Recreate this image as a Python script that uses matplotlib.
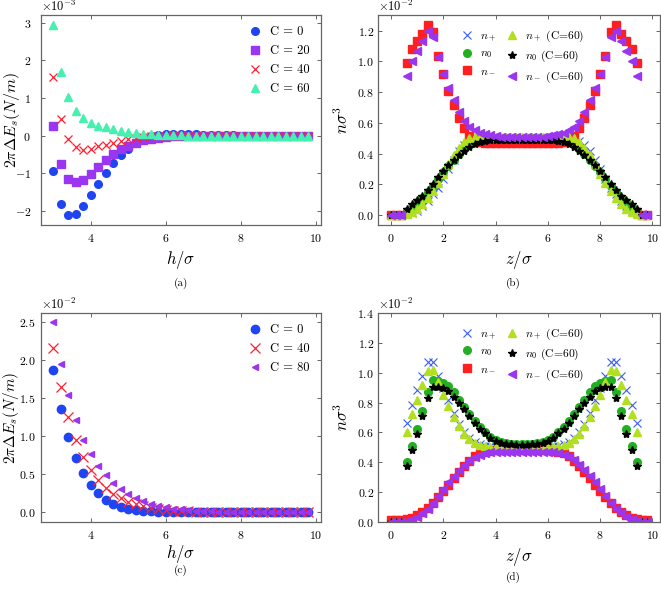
import numpy as np
import matplotlib
matplotlib.use('Agg')
import matplotlib.pyplot as plt

plt.rcParams['font.family'] = 'serif'
plt.rcParams['font.serif'] = ['cmr10', 'DejaVu Serif']
plt.rcParams['mathtext.fontset'] = 'cm'
plt.rcParams['axes.formatter.use_mathtext'] = True
plt.rcParams['axes.unicode_minus'] = True

# ---- panel (a): 2*pi*dE_s in units of 1e-3 N/m
h = [3.0, 3.2, 3.4, 3.6, 3.8, 4.0, 4.2, 4.4, 4.6, 4.8, 5.0, 5.2, 5.4, 5.6, 5.8, 6.0, 6.2,
     6.4, 6.6, 6.8, 7.0, 7.2, 7.4, 7.6, 7.8, 8.0, 8.2, 8.4, 8.6, 8.8, 9.0, 9.2, 9.4, 9.6, 9.8]
a_c0 = [-0.93, -1.82, -2.11, -2.07, -1.86, -1.58, -1.28, -0.99, -0.73, -0.51, -0.34, -0.20,
        -0.09, -0.02, 0.02, 0.04, 0.05, 0.05, 0.05, 0.04, 0.03, 0.02, 0.015, 0.01, 0.01,
        0.005, 0.005, 0, 0, 0, 0, 0, 0, 0, 0]
a_c20 = [0.27, -0.75, -1.15, -1.24, -1.18, -1.02, -0.82, -0.65, -0.49, -0.35, -0.27, -0.18,
         -0.12, -0.08, -0.05, -0.03, -0.02, -0.01, -0.005, 0, 0, 0, 0, 0, 0, 0, 0, 0, 0, 0,
         0, 0, 0, 0, 0]
a_c40 = [1.57, 0.44, -0.10, -0.31, -0.38, -0.35, -0.28, -0.24, -0.18, -0.13, -0.09, -0.06,
         -0.04, -0.02, -0.01, -0.005, 0, 0, 0, 0, 0, 0, 0, 0, 0, 0, 0, 0, 0, 0, 0, 0, 0, 0, 0]
a_c60 = [2.95, 1.68, 1.02, 0.66, 0.47, 0.34, 0.27, 0.22, 0.17, 0.13, 0.10, 0.07, 0.05, 0.035,
         0.025, 0.018, 0.012, 0.008, 0.005, 0.003, 0, 0, 0, 0, 0, 0, 0, 0, 0, 0, 0, 0, 0, 0, 0]

# ---- panel (c): 2*pi*dE_s in units of 1e-2 N/m
c_c0 = [1.87, 1.365, 0.99, 0.715, 0.515, 0.365, 0.25, 0.167, 0.11, 0.072, 0.047, 0.03, 0.02,
        0.013, 0.008, 0.005, 0.003, 0.002, 0.001, 0, 0, 0, 0, 0, 0, 0, 0, 0, 0, 0, 0, 0, 0,
        0, 0]
c_c40 = [2.17, 1.645, 1.25, 0.955, 0.725, 0.555, 0.425, 0.32, 0.243, 0.185, 0.14, 0.105,
         0.08, 0.06, 0.045, 0.034, 0.025, 0.019, 0.014, 0.01, 0.008, 0.006, 0.004, 0.003,
         0.002, 0.002, 0.001, 0, 0, 0, 0, 0, 0, 0, 0]
c_c80 = [2.5, 1.95, 1.54, 1.215, 0.96, 0.765, 0.61, 0.488, 0.388, 0.307, 0.245, 0.19, 0.147,
         0.112, 0.085, 0.066, 0.05, 0.04, 0.03, 0.022, 0.017, 0.013, 0.01, 0.008, 0.006,
         0.004, 0.003, 0.002, 0.001, 0, 0, 0, 0, 0, 0]

# ---- panels (b), (d): density profiles, units of 1e-2
z = [0.0, 0.2, 0.4, 0.6, 0.8, 1.0, 1.2, 1.4, 1.6, 1.8, 2.0, 2.2, 2.4, 2.6, 2.8, 3.0, 3.2,
     3.4, 3.6, 3.8, 4.0, 4.2, 4.4, 4.6, 4.8, 5.0, 5.2, 5.4, 5.6, 5.8, 6.0, 6.2, 6.4, 6.6,
     6.8, 7.0, 7.2, 7.4, 7.6, 7.8, 8.0, 8.2, 8.4, 8.6, 8.8, 9.0, 9.2, 9.4, 9.6, 9.8]

b_np = [0, 0, 0, 0.005, 0.015, 0.03, 0.06, 0.095, 0.135, 0.18, 0.235, 0.30, 0.36, 0.415,
        0.455, 0.48, 0.495, 0.502, 0.505, 0.505, 0.505, 0.505, 0.505, 0.505, 0.505, 0.505,
        0.505, 0.505, 0.505, 0.505, 0.505, 0.505, 0.505, 0.505, 0.502, 0.495, 0.48, 0.455,
        0.415, 0.36, 0.30, 0.235, 0.18, 0.135, 0.095, 0.06, 0.03, 0.015, 0.005, 0]
b_n0 = [0, 0, 0, 0.03, 0.055, 0.085, 0.115, 0.15, 0.19, 0.235, 0.28, 0.32, 0.36, 0.395,
        0.43, 0.455, 0.475, 0.488, 0.495, 0.498, 0.498, 0.498, 0.498, 0.498, 0.498, 0.498,
        0.498, 0.498, 0.498, 0.498, 0.498, 0.498, 0.495, 0.488, 0.475, 0.455, 0.43, 0.395,
        0.36, 0.32, 0.28, 0.235, 0.19, 0.15, 0.115, 0.085, 0.055, 0.03, 0, 0]
b_nm = [0, 0, 0, 0.99, 1.08, 1.13, 1.18, 1.24, 1.19, 1.035, 0.92, 0.81, 0.72, 0.63, 0.565,
        0.515, 0.49, 0.478, 0.472, 0.47, 0.47, 0.47, 0.47, 0.47, 0.47, 0.47, 0.47, 0.47,
        0.47, 0.47, 0.47, 0.47, 0.472, 0.478, 0.49, 0.515, 0.565, 0.63, 0.72, 0.81, 0.92,
        1.035, 1.19, 1.24, 1.18, 1.13, 1.08, 0.99, 0, 0]
b_np60 = [0, 0, 0, 0.01, 0.02, 0.04, 0.07, 0.11, 0.155, 0.21, 0.27, 0.33, 0.39, 0.44, 0.475,
          0.50, 0.51, 0.512, 0.512, 0.512, 0.512, 0.512, 0.512, 0.512, 0.512, 0.512, 0.512,
          0.512, 0.512, 0.512, 0.512, 0.512, 0.512, 0.512, 0.51, 0.50, 0.475, 0.44, 0.39,
          0.33, 0.27, 0.21, 0.155, 0.11, 0.07, 0.04, 0.02, 0.01, 0, 0]
b_n060 = [0, 0, 0, 0.04, 0.07, 0.098, 0.124, 0.163, 0.206, 0.25, 0.29, 0.325, 0.358, 0.39,
          0.42, 0.445, 0.462, 0.475, 0.482, 0.486, 0.488, 0.488, 0.488, 0.488, 0.488, 0.488,
          0.488, 0.488, 0.488, 0.488, 0.488, 0.486, 0.482, 0.475, 0.462, 0.445, 0.42, 0.39,
          0.358, 0.325, 0.29, 0.25, 0.206, 0.163, 0.124, 0.098, 0.07, 0.04, 0, 0]
b_nm60 = [0, 0, 0, 0.905, 1.005, 1.07, 1.13, 1.20, 1.16, 1.03, 0.92, 0.83, 0.75, 0.67, 0.61,
          0.575, 0.553, 0.536, 0.527, 0.52, 0.515, 0.512, 0.51, 0.51, 0.51, 0.51, 0.51, 0.51,
          0.51, 0.512, 0.515, 0.52, 0.527, 0.536, 0.553, 0.575, 0.61, 0.67, 0.75, 0.83, 0.92,
          1.03, 1.16, 1.20, 1.13, 1.07, 1.005, 0.905, 0, 0]

d_np = [0, 0, 0, 0.66, 0.785, 0.885, 0.98, 1.075, 1.075, 0.975, 0.90, 0.815, 0.73, 0.655,
        0.60, 0.56, 0.535, 0.52, 0.512, 0.507, 0.504, 0.502, 0.502, 0.502, 0.502, 0.502,
        0.502, 0.502, 0.502, 0.502, 0.504, 0.507, 0.512, 0.52, 0.535, 0.56, 0.60, 0.655,
        0.73, 0.815, 0.90, 0.975, 1.075, 1.075, 0.98, 0.885, 0.785, 0.66, 0, 0]
d_n0 = [0, 0, 0, 0.40, 0.51, 0.625, 0.745, 0.87, 0.948, 0.945, 0.93, 0.91, 0.87, 0.82, 0.77,
        0.72, 0.675, 0.635, 0.60, 0.57, 0.55, 0.537, 0.528, 0.523, 0.52, 0.52, 0.52, 0.523,
        0.528, 0.537, 0.55, 0.57, 0.60, 0.635, 0.675, 0.72, 0.77, 0.82, 0.87, 0.91, 0.93,
        0.945, 0.948, 0.87, 0.745, 0.625, 0.51, 0.40, 0, 0]
d_nm = [0.01, 0.01, 0.012, 0.02, 0.028, 0.045, 0.067, 0.094, 0.13, 0.17, 0.205, 0.25, 0.295,
        0.335, 0.375, 0.41, 0.44, 0.46, 0.472, 0.478, 0.48, 0.48, 0.48, 0.48, 0.48, 0.48,
        0.48, 0.48, 0.48, 0.48, 0.48, 0.478, 0.472, 0.46, 0.44, 0.41, 0.375, 0.335, 0.295,
        0.25, 0.205, 0.17, 0.13, 0.094, 0.067, 0.045, 0.028, 0.02, 0.012, 0.01]
d_np60 = [0, 0, 0, 0.605, 0.72, 0.82, 0.915, 1.01, 1.02, 0.935, 0.85, 0.775, 0.705, 0.64,
          0.59, 0.555, 0.532, 0.518, 0.51, 0.505, 0.502, 0.50, 0.50, 0.50, 0.50, 0.50, 0.50,
          0.50, 0.50, 0.50, 0.502, 0.505, 0.51, 0.518, 0.532, 0.555, 0.59, 0.64, 0.705,
          0.775, 0.85, 0.935, 1.02, 1.01, 0.915, 0.82, 0.72, 0.605, 0, 0]
d_n060 = [0, 0, 0, 0.375, 0.485, 0.59, 0.71, 0.83, 0.905, 0.905, 0.895, 0.875, 0.84, 0.80,
          0.755, 0.71, 0.665, 0.625, 0.595, 0.565, 0.545, 0.532, 0.524, 0.52, 0.518, 0.518,
          0.518, 0.52, 0.524, 0.532, 0.545, 0.565, 0.595, 0.625, 0.665, 0.71, 0.755, 0.80,
          0.84, 0.875, 0.895, 0.905, 0.905, 0.83, 0.71, 0.59, 0.485, 0.375, 0, 0]
d_nm60 = [0, 0, 0.003, 0.008, 0.018, 0.035, 0.058, 0.09, 0.13, 0.175, 0.22, 0.265, 0.31,
          0.35, 0.385, 0.415, 0.438, 0.452, 0.462, 0.467, 0.47, 0.472, 0.472, 0.472, 0.472,
          0.472, 0.472, 0.472, 0.472, 0.472, 0.47, 0.467, 0.462, 0.452, 0.438, 0.415, 0.385,
          0.35, 0.31, 0.265, 0.22, 0.175, 0.13, 0.09, 0.058, 0.035, 0.018, 0.008, 0.003, 0]

BLUE = '#1f45f2'
PURPLE = '#9a35f0'
RED = '#ff2030'
AQUA = '#45f0b0'
GREEN = '#22b022'
YGREEN = '#b2e020'
SPINE = '#666666'


def style_axes(ax, ypad):
    for sp in ax.spines.values():
        sp.set_color(SPINE)
        sp.set_linewidth(0.9)
    ax.tick_params(direction='in', top=True, right=True, length=3, width=0.7,
                   color=SPINE, labelsize=8.5)
    ax.tick_params(axis='x', pad=5)
    ax.tick_params(axis='y', pad=ypad)
    ax.ticklabel_format(style='sci', axis='y', scilimits=(0, 0), useMathText=True)
    ax.yaxis.get_offset_text().set_fontsize(9)


fig = plt.figure(figsize=(6.61, 5.90), dpi=100)
ax_a = fig.add_axes([0.0616, 0.619, 0.424, 0.3556])
ax_b = fig.add_axes([0.572, 0.619, 0.4265, 0.3556])
ax_c = fig.add_axes([0.0616, 0.1153, 0.424, 0.3542])
ax_d = fig.add_axes([0.572, 0.1153, 0.4265, 0.3542])

hh = np.array(h)
zz = np.array(z)

# (a)
ax_a.plot(hh, np.array(a_c0) * 1e-3, ls='none', marker='o', ms=5.5, color=BLUE, label='C = 0')
ax_a.plot(hh, np.array(a_c20) * 1e-3, ls='none', marker='s', ms=5.5, color=PURPLE, label='C = 20')
ax_a.plot(hh, np.array(a_c40) * 1e-3, ls='none', marker='x', ms=6, mew=0.9, color=RED, label='C = 40')
ax_a.plot(hh, np.array(a_c60) * 1e-3, ls='none', marker='^', ms=6, color=AQUA, label='C = 60')
ax_a.set_xlabel(r'$h/\sigma$', fontsize=12)
ax_a.set_ylabel(r'$2\pi\Delta E_s(N/m)$', fontsize=11.5)
ax_a.legend(loc='upper right', frameon=False, fontsize=9, handlelength=1.2,
            handletextpad=0.6, labelspacing=0.55)

# (c)
ax_c.plot(hh, np.array(c_c0) * 1e-2, ls='none', marker='o', ms=6, color=BLUE, label='C = 0')
ax_c.plot(hh, np.array(c_c40) * 1e-2, ls='none', marker='x', ms=6.5, mew=0.9, color=RED, label='C = 40')
ax_c.plot(hh, np.array(c_c80) * 1e-2, ls='none', marker='<', ms=4.5, color=PURPLE, label='C = 80')
ax_c.set_xlabel(r'$h/\sigma$', fontsize=12, labelpad=1.5)
ax_c.set_ylabel(r'$2\pi\Delta E_s(N/m)$', fontsize=11)
ax_c.legend(loc='upper right', frameon=False, fontsize=9, handlelength=1.2,
            handletextpad=0.6, labelspacing=0.55)


def profiles(ax, npl, n0, nm, np60, n060, nm60):
    ax.plot(zz, np.array(npl) * 1e-2, ls='none', marker='x', ms=5.5, mew=0.8, color='#3a5cf5', label=r'$n_+$')
    ax.plot(zz, np.array(n0) * 1e-2, ls='none', marker='o', ms=5.5, color=GREEN, label=r'$n_0$')
    ax.plot(zz, np.array(nm) * 1e-2, ls='none', marker='s', ms=5.5, color='#ff1f1f', label=r'$n_-$')
    ax.plot(zz, np.array(np60) * 1e-2, ls='none', marker='^', ms=6, color=YGREEN, label=r'$n_+$ (C=60)')
    ax.plot(zz, np.array(n060) * 1e-2, ls='none', marker='*', ms=6, color='black', label=r'$n_0$ (C=60)')
    ax.plot(zz, np.array(nm60) * 1e-2, ls='none', marker='<', ms=6, color=PURPLE, label=r'$n_-$ (C=60)')
    ax.set_xlabel(r'$z/\sigma$', fontsize=12)
    ax.set_ylabel(r'$n\sigma^3$', fontsize=12)
    ax.legend(loc='upper center', bbox_to_anchor=(0.51, 0.985), ncol=2, frameon=False,
              fontsize=8.3, handlelength=1.2, handletextpad=0.5, labelspacing=0.45,
              columnspacing=0.8)


profiles(ax_b, b_np, b_n0, b_nm, b_np60, b_n060, b_nm60)
profiles(ax_d, d_np, d_n0, d_nm, d_np60, d_n060, d_nm60)
ax_b.set_xticks([0, 2, 4, 6, 8, 10])
ax_d.set_xticks([0, 2, 4, 6, 8, 10])
ax_d.set_ylim(0, 0.014)

style_axes(ax_a, 7)
style_axes(ax_c, 3.5)
style_axes(ax_b, 3)
style_axes(ax_d, 3)
ax_d.set_yticks(np.arange(0, 0.0141, 0.002))

ax_a.yaxis.set_label_coords(-0.068, 0.5)
ax_c.yaxis.set_label_coords(-0.072, 0.5)
ax_b.yaxis.set_label_coords(-0.095, 0.5)
ax_d.yaxis.set_label_coords(-0.095, 0.5)

fig.text(181 / 661, 1 - 283 / 590, '(a)', ha='center', va='center', fontsize=8)
fig.text(513 / 661, 1 - 283 / 590, '(b)', ha='center', va='center', fontsize=8)
fig.text(181 / 661, 1 - 570 / 590, '(c)', ha='center', va='center', fontsize=8)
fig.text(513 / 661, 1 - 577 / 590, '(d)', ha='center', va='center', fontsize=8)

fig.savefig('out.png', dpi=100)
